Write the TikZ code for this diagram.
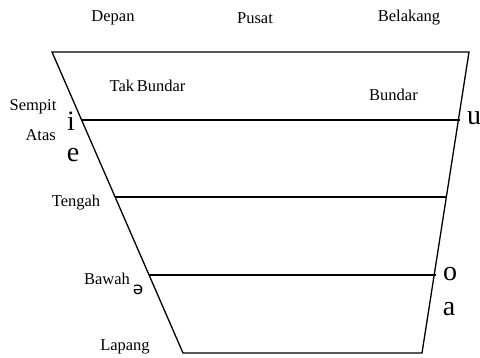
\documentclass[tikz,border=0pt]{standalone}
\usepackage{fontspec}
\setmainfont{Liberation Serif}
\newfontfamily\schwafont{DejaVu Sans}
\usetikzlibrary{calc}
\begin{document}
\begin{tikzpicture}[x=1pt,y=-1pt,
  edge/.style={line width=1.3pt, line join=miter},
  lbl/.style={inner sep=0pt, font=\fontsize{16.5}{18}\selectfont},
  vow/.style={inner sep=0pt, font=\fontsize{28}{30}\selectfont}]
\useasboundingbox (0,0) rectangle (480,358);
% frame corners
\coordinate (TL) at (52,52);
\coordinate (TR) at (469,52);
\coordinate (BR) at (422,353);
\coordinate (BL) at (183,353);
\draw[edge] (TL) -- (TR) -- (BR) -- (BL) -- cycle;
% points on the sides
\coordinate (L1) at ($(TL)!0.226!(BL)$);
\coordinate (R1) at ($(TR)!0.226!(BR)+(1.5,0)$);
\coordinate (L2) at ($(TL)!0.482!(BL)$);
\coordinate (R2) at ($(TR)!0.482!(BR)$);
\coordinate (L3) at ($(TL)!0.741!(BL)$);
\coordinate (R3) at ($(TR)!0.741!(BR)+(1.5,0)$);
\draw[edge] (L1) -- (R1);
\draw[edge] (L2) -- (R2);
\draw[edge] (L3) -- (R3);
% column labels
\node[lbl] (depan) at (113,18) {Depan};
\node[lbl] (pusat) at (255,18) {Pusat};
\node[lbl] (belakang) at (409,18) {Belakang};
% inner labels
\node[lbl] (tak) at (147.5,86) {Tak\,Bundar};
\node[lbl] (bundar) at (393.5,95) {Bundar};
% row labels
\node[lbl] (sempit) at (33,107) {Sempit};
\node[lbl, anchor=east] (atas) at (56,135) {Atas};
\node[lbl] (tengah) at (76,203) {Tengah};
\node[lbl] (bawah) at (107,279) {Bawah};
\node[lbl] (lapang) at (125,347) {Lapang};
% vowels
\node[vow] (i) at (71,121) {i};
\node[vow] (e) at (73,155) {e};
\node[vow] (u) at (474,118) {u};
\node[vow] (o) at (450,274) {o};
\node[vow] (a) at (449,309) {a};
\node[inner sep=0pt, font=\schwafont\fontsize{17}{20}\selectfont] (schwa) at (138,290) {ə};
\end{tikzpicture}
\end{document}
